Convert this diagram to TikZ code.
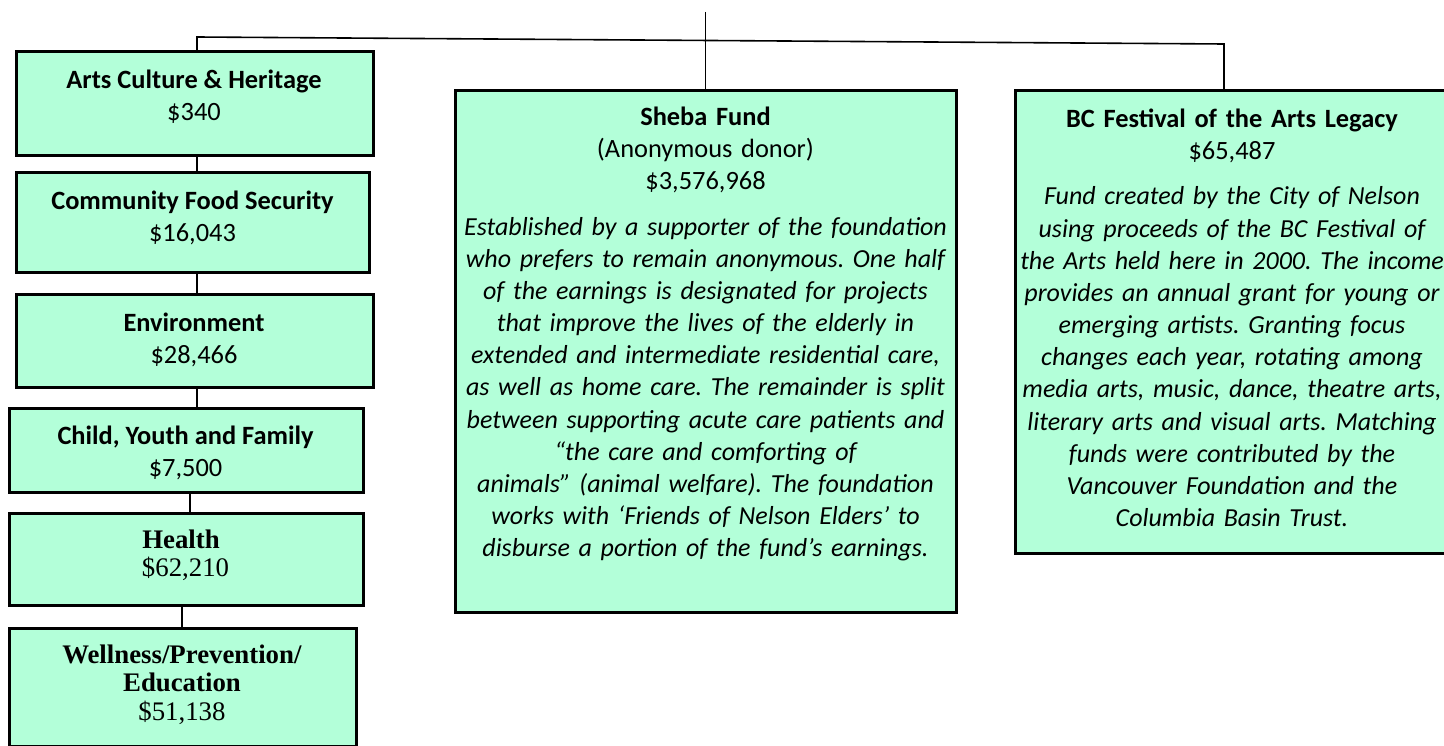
\documentclass[tikz,border=0pt]{standalone}
\usepackage{fontspec}
\setmainfont{Carlito}
\newfontfamily\tnr{Liberation Serif}
\definecolor{mint}{RGB}{179,255,217}
\frenchspacing
\begin{document}
\begin{tikzpicture}[x=1pt,y=-1pt,
  box/.style={draw=black, line width=3pt, fill=mint, anchor=north west, inner sep=0pt, outer sep=0pt},
  lbl/.style={anchor=north, align=center, inner sep=0pt, font=\fontsize{26.4}{32.3}\selectfont},
  tlbl/.style={anchor=north, align=center, inner sep=0pt, font=\tnr\fontsize{26.8}{28.5}\selectfont},
  para/.style={anchor=north, align=center, inner sep=0pt, font=\fontsize{26}{32.15}\selectfont},
  conn/.style={draw=black, line width=1.6pt}]
\useasboundingbox (0,0) rectangle (1444,746);

% boxes
\node[box, minimum width=357, minimum height=104] (arts)   at (16,52)  {};
\node[box, minimum width=353, minimum height=100] (food)   at (16,173) {};
\node[box, minimum width=357, minimum height=92]  (env)    at (16,295) {};
\node[box, minimum width=354, minimum height=84]  (child)  at (9,408)  {};
\node[box, minimum width=354, minimum height=92]  (health) at (9,513)  {};
\node[box, minimum width=347, minimum height=118] (well)   at (9,628)  {};
\node[box, minimum width=501, minimum height=521] (sheba)  at (455,91) {};
\node[box, minimum width=440, minimum height=462] (bc)     at (1015,91) {};

% texts
\node[lbl] (artsT) at (194,66) {\rule{0pt}{22pt}\textbf{Arts Culture \& Heritage}\\\$340};
\node[lbl] (foodT) at (192.5,187) {\rule{0pt}{22pt}\textbf{Community Food Security}\\\$16,043};
\node[lbl] (envT) at (194,309) {\rule{0pt}{22pt}\textbf{Environment}\\\$28,466};
\node[lbl] (childT) at (185.5,422) {\rule{0pt}{22pt}\textbf{Child, Youth and Family}\\\$7,500};
\node[tlbl] (healthT) at (181,527) {\rule{0pt}{21pt}\textbf{Health}\hspace{9pt}\\\hspace{9pt}\$62,210};
\node[tlbl] (wellT) at (182,642) {\rule{0pt}{21pt}\textbf{Wellness/Prevention/}\\\textbf{Education}\\\$51,138};

\node[para, text width=500pt] (shebaT) at (705.5,103) {\centering\rule{0pt}{22pt}{\fontsize{26.4}{32.15}\selectfont\textbf{Sheba Fund}\\
(Anonymous donor)\\
\$3,576,968}\\[13.5pt]
\itshape Established by a supporter of the foundation\\
who prefers to remain anonymous. One half\\
of the earnings is designated for projects\\
that improve the lives of the elderly in\\
extended and intermediate residential care,\\
as well as home care. The remainder is split\\
between supporting acute care patients and\\
“the care and comforting of\\
animals” (animal welfare). The foundation\\
works with ‘Friends of Nelson Elders’ to\\
disburse a portion of the fund’s earnings.\par};

\node[para, text width=440pt] (bcT) at (1232,105) {\centering\rule{0pt}{22pt}{\fontsize{26.4}{32.15}\selectfont\textbf{BC Festival of the Arts Legacy}\\
\$65,487}\\[13.5pt]
\itshape Fund created by the City of Nelson\\
using proceeds of the BC Festival of\\
the Arts held here in 2000. The income\\
provides an annual grant for young or\\
emerging artists. Granting focus\\
changes each year, rotating among\\
media arts, music, dance, theatre arts,\\
literary arts and visual arts. Matching\\
funds were contributed by the\\
Vancouver Foundation and the\\
Columbia Basin Trust.\par};

% connectors
\coordinate (topend) at (705.5,12);
\coordinate (cl) at (197,37);
\coordinate (cr) at (1224,44);
\coordinate (v4) at (190,0);
\coordinate (v5) at (182,0);
\draw[conn] (topend) -- (sheba.north);
\draw[conn] (cl |- arts.north) -- (cl) -- (cr) -- (cr |- bc.north);
\draw[conn] (cl |- arts.south) -- (cl |- food.north);
\draw[conn] (cl |- food.south) -- (cl |- env.north);
\draw[conn] (cl |- env.south) -- (cl |- child.north);
\draw[conn] (v4 |- child.south) -- (v4 |- health.north);
\draw[conn] (v5 |- health.south) -- (v5 |- well.north);
\end{tikzpicture}
\end{document}
